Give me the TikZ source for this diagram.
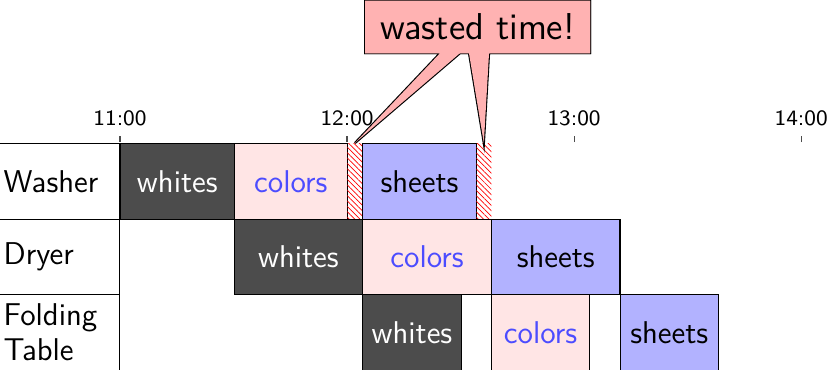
\documentclass[tikz,border=0pt]{standalone}
\usepackage{tikz}
\usetikzlibrary{shapes.callouts, patterns.meta, positioning}

\tikzset{
  job/.style={draw, anchor=north west, inner sep=0pt, minimum height=0.94375cm,
              font=\sffamily\fontsize{11.2}{13}\selectfont},
  washjob/.style={job, minimum width=1.419cm},
  dryjob/.style={job, minimum width=1.608cm},
  foldjob/.style={job, minimum width=1.230cm},
  whitesload/.style={fill=black!70, text=white},
  colorsload/.style={fill=red!10, text=blue!70},
  sheetsload/.style={fill=blue!30, text=black},
  idle/.style={anchor=north west, inner sep=0pt, minimum width=0.189cm, minimum height=0.94375cm,
               pattern={Lines[angle=-45, distance=1.35pt, line width=0.25pt]}, pattern color=red},
  station/.style={draw, anchor=north east, inner sep=1.5pt, minimum height=0.94375cm,
                  text width=1.3946cm, align=left, font=\sffamily\fontsize{11.2}{12.7}\selectfont},
  note/.style={rectangle callout, fill=red!30, minimum width=2.81cm, minimum height=0.65cm,
               inner sep=4.7pt, font=\sffamily\fontsize{13.3}{15}\selectfont},
  hourtick/.style={black!70}
}

\begin{document}
\begin{tikzpicture}[x=0.0473cm, y=0.94375cm]
  \useasboundingbox (-1.5cm,1.7875cm) rectangle (8.8375cm,-2.825cm);
  % --- Stations ---
  \node[station] (washer) at (0,0) {Washer};
  \node[station] (dryer) at (0,-1) {Dryer};
  \node[station] (folding) at (0,-2) {Folding\\Table};
  % --- Washer ---
  \node[washjob, whitesload] (ww) at (0,0) {whites};
  \node[washjob, colorsload] (wc) at (30,0) {colors};
  \node[idle] (gapA) at (60,0) {};
  \node[washjob, sheetsload] (ws) at (64,0) {sheets};
  \node[idle] (gapB) at (94,0) {};
  % --- Dryer ---
  \node[dryjob, whitesload] (dw) at (30,-1) {whites};
  \node[dryjob, colorsload] (dc) at (64,-1) {colors};
  \node[dryjob, sheetsload] (ds) at (98,-1) {sheets};
  % --- Folding table ---
  \node[foldjob, whitesload] (fw) at (64,-2) {whites};
  \node[foldjob, colorsload] (fc) at (98,-2) {colors};
  \node[foldjob, sheetsload] (fs) at (132,-2) {sheets};
  % --- Time axis ---
  \foreach \h/\t in {0/11:00, 1/12:00, 2/13:00, 3/14:00} {
    \draw[hourtick] (\h*60,0) ++(0,0.0125cm) -- ++(0,0.075cm)
      node[anchor=south, text=black, font=\sffamily\fontsize{7.8}{9}\selectfont] (hour\h) {\t};
  }
  % --- Callout ---
  \node[note, draw, line width=0.8pt, callout absolute pointer=(gapA.north)] (noteA) at (94.5,1.536) {};
  \node[note, draw, line width=0.8pt, callout absolute pointer=(gapB.north)] (noteB) at (noteA) {};
  \node[note, callout absolute pointer=(gapA.north)] (fillA) at (noteA) {};
  \node[note, callout absolute pointer=(gapB.north)] (note) at (noteA) {wasted time!};
\end{tikzpicture}
\end{document}
